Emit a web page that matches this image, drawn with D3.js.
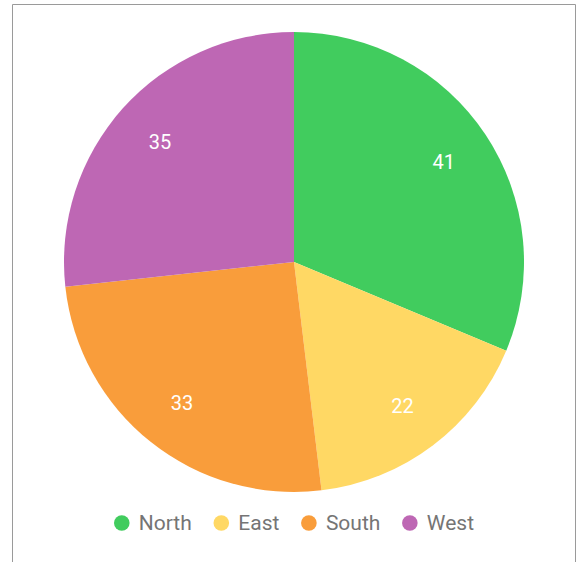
<!DOCTYPE html>
<html>
<head>
<meta charset="utf-8">
<script src="https://cdn.jsdelivr.net/npm/d3@7"></script>
<style>
  html, body { margin: 0; padding: 0; background: #fff; }
  svg { display: block; font-family: Roboto, "Noto Sans", sans-serif; }
</style>
</head>
<body>
<svg id="chart" width="576" height="562"></svg>
<script>
const categories = ["North", "East", "South", "West"];
const values = [41, 22, 33, 35];
const colors = ["#41CC5E", "#FFD864", "#F99D3B", "#BE67B4"];

const svg = d3.select("#chart");
const W = 576, H = 562;

// frame
svg.append("path")
  .attr("d", `M12.5,${H} L12.5,4.5 L575.5,4.5 L575.5,${H}`)
  .attr("fill", "none")
  .attr("stroke", "#9a9a9a")
  .attr("stroke-width", 1);

const cx = 294, cy = 262, R = 230, labelR = 180;
const data = categories.map((c, i) => ({ name: c, value: values[i], color: colors[i] }));

const pie = d3.pie().value(d => d.value).sort(null);
const arc = d3.arc().innerRadius(0).outerRadius(R);
const labelArc = d3.arc().innerRadius(labelR).outerRadius(labelR);

const g = svg.append("g").attr("transform", `translate(${cx},${cy})`);
const arcs = pie(data);

g.selectAll("path.slice").data(arcs).enter().append("path")
  .attr("class", "slice")
  .attr("d", arc)
  .attr("fill", d => d.data.color);

g.selectAll("text.lbl").data(arcs).enter().append("text")
  .attr("class", "lbl")
  .attr("transform", d => `translate(${labelArc.centroid(d)})`)
  .attr("text-anchor", "middle")
  .attr("dominant-baseline", "central")
  .attr("fill", "#fff")
  .attr("font-size", 20)
  .text(d => d.data.value);

// legend
const legend = svg.append("g").attr("transform", "translate(0,523)");
const items = legend.selectAll("g.item").data(data).enter().append("g").attr("class", "item");
items.append("circle").attr("r", 7.8).attr("cx", 0).attr("cy", 0).attr("fill", d => d.color);
items.append("text")
  .attr("x", 17)
  .attr("y", 0)
  .attr("dominant-baseline", "central")
  .attr("font-size", 21)
  .attr("fill", "#757575")
  .text(d => d.name);

// layout legend items horizontally, centered
const gap = 29.5;
let x = 0;
const positions = [];
items.each(function() {
  const tw = d3.select(this).select("text").node().getComputedTextLength();
  positions.push(x);
  x += 17 + tw + gap;
});
const totalW = x - gap + 7.8;
const startX = cx - totalW / 2 + 7.8;
items.attr("transform", (d, i) => `translate(${startX + positions[i]},0)`);
</script>
</body>
</html>
